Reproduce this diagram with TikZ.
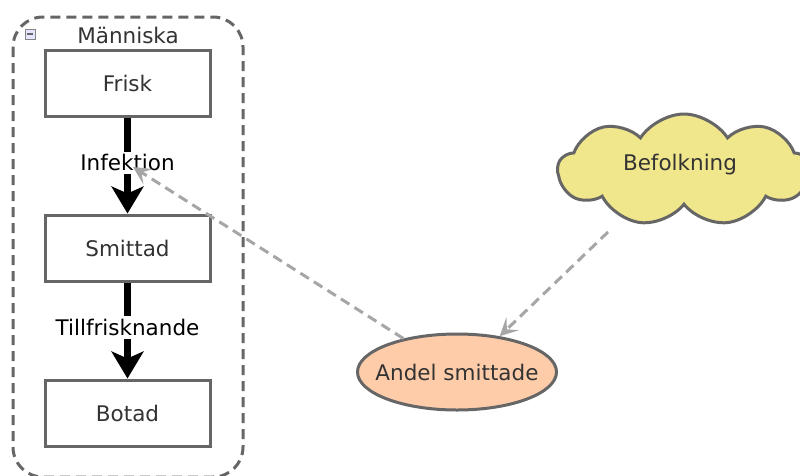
\documentclass[tikz,border=0pt]{standalone}
\usepackage{fontspec}
\setmainfont{DejaVu Sans}
\usetikzlibrary{shapes.geometric,shapes.symbols,arrows.meta}
\definecolor{edgegray}{HTML}{666666}
\definecolor{dashgray}{HTML}{A6A6A6}
\definecolor{cloudfill}{HTML}{F0E68C}
\definecolor{peach}{HTML}{FFCCAA}
\tikzset{
  txt/.style={font=\fontsize{21.5}{25}\selectfont},
  stockbox/.style={draw=edgegray, line width=3pt, fill=white, minimum width=165pt, minimum height=66pt, inner sep=0pt, txt, text=black!80},
  flowarrow/.style={line width=7pt, -{Stealth[length=27pt,width=32pt,inset=7pt]}},
  flowlabel/.style={fill=white, inner sep=3pt, txt},
  linkarrow/.style={draw=dashgray, line width=3pt, dash pattern=on 10pt off 6pt, -{Stealth[length=18pt,width=18pt,inset=8pt,fill=dashgray]}},
}
\begin{document}
\begin{tikzpicture}[x=1pt,y=-1pt]
\useasboundingbox (0,0) rectangle (800,475);
% group
\draw[edgegray, line width=3pt, dash pattern=on 10pt off 6pt, rounded corners=30pt] (13,17) rectangle (243,477);
\node[draw=edgegray!80, fill=blue!10, line width=0.7pt, minimum size=10pt, inner sep=0pt] (collapse) at (30,34) {};
\draw[edgegray, line width=1.6pt] (collapse.west) ++(2pt,0) -- ++(6pt,0);
\node[txt, text=black!80] (title) at (128,35) {Människa};
% stocks
\node[stockbox] (frisk) at (127.5,83.5) {Frisk};
\node[stockbox] (smittad) at (127.5,248) {Smittad};
\node[stockbox] (botad) at (127.5,413) {Botad};
% flows
\draw[flowarrow] (frisk.south) -- (smittad.north) node[flowlabel, pos=0.47] (infl) {Infektion};
\draw[flowarrow] (smittad.south) -- (botad.north) node[flowlabel, pos=0.47] (tilll) {Tillfrisknande};
% cloud
\node[cloud, cloud puffs=9, cloud puff arc=115, aspect=2.6, draw=edgegray, line width=3pt, fill=cloudfill, minimum width=252pt, minimum height=112pt] (bef) at (684,170) {};
\node[txt, text=black!80] (beftext) at (680,165) {Befolkning};
% ellipse
\node[ellipse, draw=edgegray, line width=3pt, fill=peach, minimum width=199pt, minimum height=76pt, inner sep=0pt] (andel) at (457,372) {};
\node[txt, text=black!80] (andeltext) at (457,372) {Andel smittade};
% links
\coordinate (inftarget) at (133,167);
\coordinate (befout) at (608,232);
\draw[linkarrow] (befout) -- (andel.40);
\draw[linkarrow] (andel.148) -- (inftarget);
\end{tikzpicture}
\end{document}
